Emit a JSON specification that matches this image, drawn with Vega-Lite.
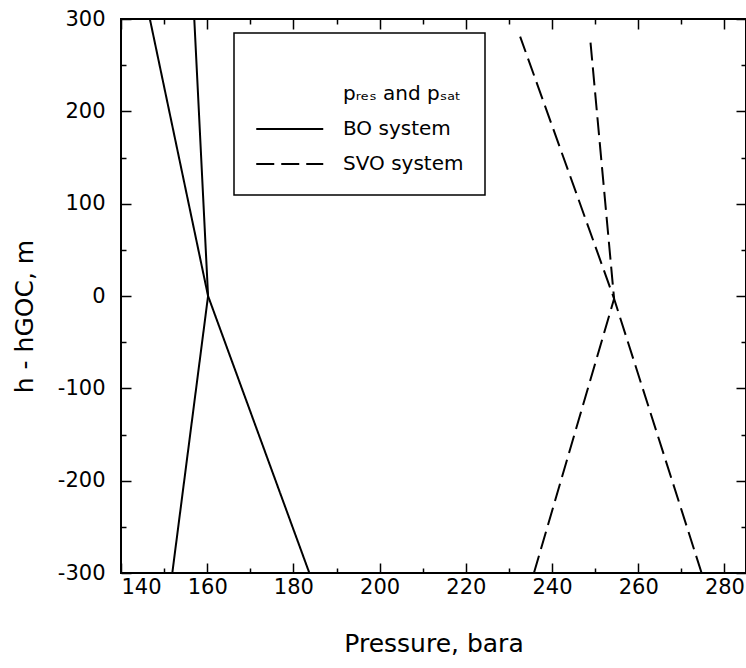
{
  "$schema": "https://vega.github.io/schema/vega-lite/v6.json",
  "width": 625,
  "height": 554,
  "autosize": {"type": "none"},
  "padding": {"left": 121, "top": 19, "right": 0, "bottom": 95},
  "background": "white",
  "config": {
    "view": {"stroke": "black", "strokeWidth": 2},
    "font": "DejaVu Sans",
    "axis": {
      "domain": false,
      "grid": false,
      "labelFont": "DejaVu Sans",
      "labelFontSize": 21,
      "labelColor": "black",
      "titleFont": "DejaVu Sans",
      "titleFontSize": 25,
      "titleFontWeight": "normal",
      "titleColor": "black",
      "tickColor": "black",
      "tickWidth": 1.5
    },
    "legend": {
      "strokeColor": "black",
      "fillColor": "white",
      "strokeWidth": 1.5,
      "padding": 21
    }
  },
  "data": {
    "values": [
      {"curve": "BO pres", "system": "BO system", "h": 300, "p": 146.7},
      {"curve": "BO pres", "system": "BO system", "h": 0, "p": 160.2},
      {"curve": "BO pres", "system": "BO system", "h": -300, "p": 183.7},
      {"curve": "BO psat", "system": "BO system", "h": 300, "p": 157.0},
      {"curve": "BO psat", "system": "BO system", "h": 0, "p": 160.2},
      {"curve": "BO psat", "system": "BO system", "h": -300, "p": 151.9},
      {"curve": "SVO pres", "system": "SVO system", "h": 281, "p": 232.6},
      {"curve": "SVO pres", "system": "SVO system", "h": -3, "p": 254.4},
      {"curve": "SVO pres", "system": "SVO system", "h": -300, "p": 274.7},
      {"curve": "SVO psat", "system": "SVO system", "h": 281, "p": 248.8},
      {"curve": "SVO psat", "system": "SVO system", "h": -3, "p": 254.4},
      {"curve": "SVO psat", "system": "SVO system", "h": -300, "p": 235.8}
    ]
  },
  "layer": [
    {
      "mark": {"type": "line", "color": "black", "strokeWidth": 2},
      "encoding": {
        "x": {
          "field": "p", "type": "quantitative",
          "scale": {"domain": [140, 285], "nice": false, "zero": false},
          "axis": {
            "orient": "bottom",
            "values": [140, 150, 160, 170, 180, 190, 200, 210, 220, 230, 240, 250, 260, 270, 280],
            "labelExpr": "datum.value % 20 === 0 ? datum.label : ''",
            "tickSize": {"condition": {"test": "datum.value % 20 === 0", "value": -10}, "value": -5},
            "labelPadding": 13,
            "title": "Pressure, bara",
            "titlePadding": 34
          }
        },
        "y": {
          "field": "h", "type": "quantitative",
          "scale": {"domain": [-300, 300], "nice": false, "zero": false},
          "axis": {
            "orient": "left",
            "values": [-300, -250, -200, -150, -100, -50, 0, 50, 100, 150, 200, 250, 300],
            "labelExpr": "datum.value % 100 === 0 ? '' + datum.value : ''",
            "tickSize": {"condition": {"test": "datum.value % 100 === 0", "value": -10}, "value": -5},
            "labelPadding": 26,
            "title": "h - hGOC, m",
            "titlePadding": 20,
            "titleY": 297
          }
        },
        "detail": {"field": "curve"},
        "order": {"field": "h", "type": "quantitative"},
        "strokeDash": {
          "field": "system", "type": "nominal",
          "scale": {
            "domain": ["pᵣₑₛ and pₛₐₜ", "BO system", "SVO system"],
            "range": [[0, 100], [1, 0], [18, 7]]
          },
          "legend": {
            "orient": "none",
            "legendX": 113,
            "legendY": 14,
            "title": "\u00a0",
            "titleFontSize": 20,
            "titlePadding": 2,
            "symbolType": "M-1,0L3,0",
            "symbolSize": 1122,
            "symbolStrokeColor": "black",
            "symbolStrokeWidth": 2,
            "labelFont": "DejaVu Sans",
            "labelFontSize": 20,
            "labelColor": "black",
            "labelOffset": 52,
            "rowPadding": 7,
            "labelExpr": "datum.label + '\u00a0\u00a0\u00a0'"
          }
        }
      }
    },
    {
      "mark": {"type": "line", "opacity": 0},
      "encoding": {
        "x": {
          "field": "p", "type": "quantitative",
          "axis": {
            "orient": "top",
            "values": [140, 150, 160, 170, 180, 190, 200, 210, 220, 230, 240, 250, 260, 270, 280],
            "labels": false,
            "tickSize": {"condition": {"test": "datum.value % 20 === 0", "value": -10}, "value": -5},
            "title": null
          }
        },
        "y": {
          "field": "h", "type": "quantitative",
          "axis": {
            "orient": "right",
            "values": [-300, -250, -200, -150, -100, -50, 0, 50, 100, 150, 200, 250, 300],
            "labels": false,
            "tickSize": {"condition": {"test": "datum.value % 100 === 0", "value": -10}, "value": -5},
            "title": null
          }
        },
        "detail": {"field": "curve"},
        "order": {"field": "h", "type": "quantitative"}
      }
    }
  ],
  "resolve": {"axis": {"x": "independent", "y": "independent"}}
}
